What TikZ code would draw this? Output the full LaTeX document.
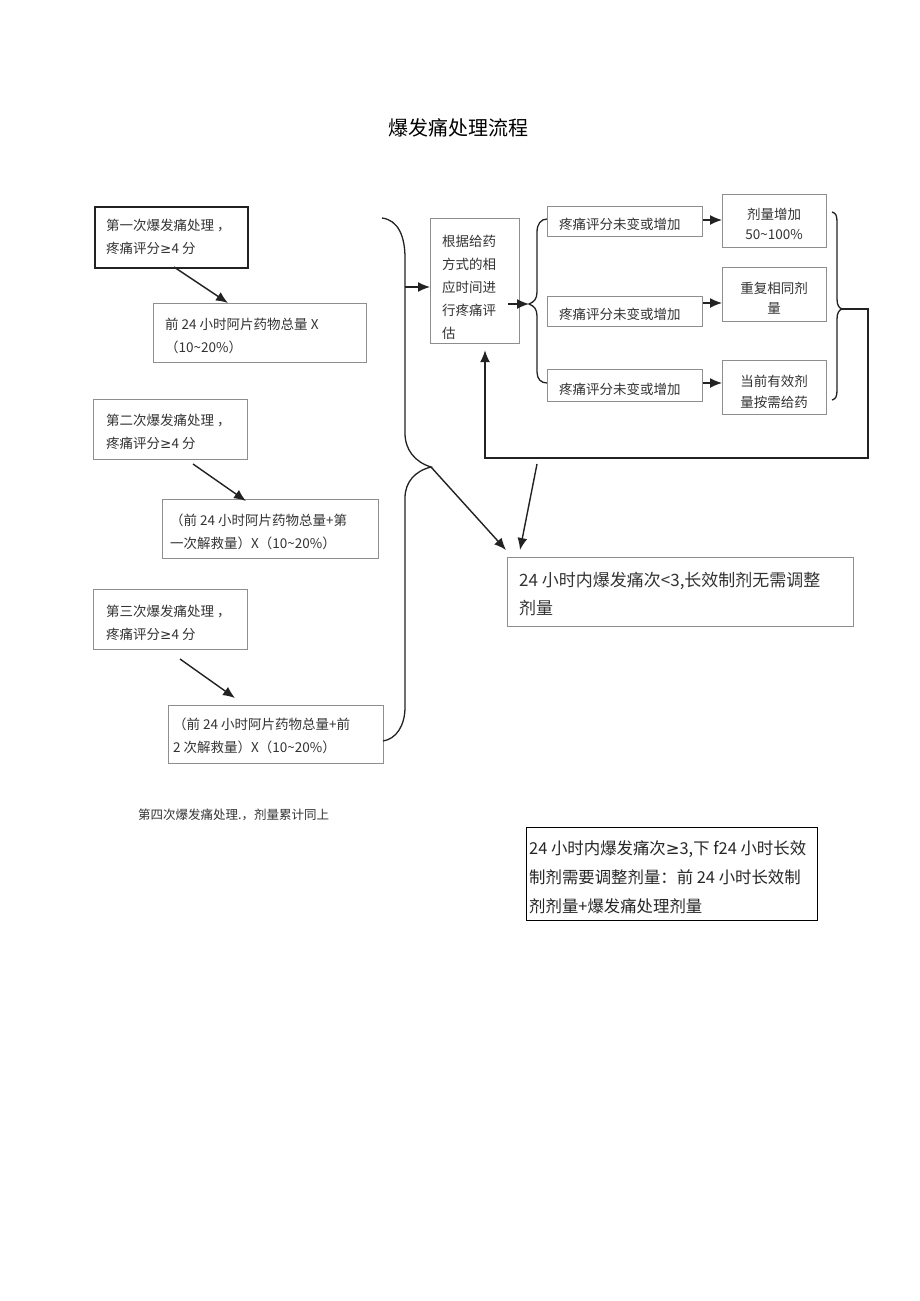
\documentclass[tikz,border=0pt]{standalone}
\usepackage{fontspec}
\setmainfont{Noto Sans CJK SC}
\newfontfamily\symfont{DejaVu Sans}
\newcommand{\gesym}{{\symfont ≥}}
\usetikzlibrary{arrows.meta}
\definecolor{boxgray}{HTML}{8E8E8E}
\definecolor{textgray}{HTML}{333333}
\definecolor{linedark}{HTML}{222222}
\begin{document}
\begin{tikzpicture}[x=1pt,y=-1pt,
  box/.style={draw=boxgray, line width=1.2pt, inner sep=0pt, anchor=north west},
  darkbox/.style={draw=linedark, line width=1.5pt, inner sep=0pt, anchor=north west},
  txt/.style={font=\fontsize{13.5}{23}\selectfont, text=textgray, align=left, inner sep=0pt, anchor=west},
  ctxt/.style={font=\fontsize{13.5}{20.5}\selectfont, text=textgray, align=center, inner sep=0pt},
  bigtxt/.style={font=\fontsize{17}{28}\selectfont, text=textgray, align=left, inner sep=0pt, anchor=west},
  arr/.style={-{Latex[length=12pt,width=10pt]}, line width=1.4pt, draw=linedark},
  brace/.style={line width=1.3pt, draw=linedark}
]
\useasboundingbox (0,0) rectangle (920,1301);
\fill[white] (0,0) rectangle (920,1301);

% title
\node[font=\fontsize{20}{24}\selectfont, text=black, inner sep=0pt] (title) at (458,128) {爆发痛处理流程};

% left column
\node[darkbox, minimum width=153pt, minimum height=61pt] (b1) at (94,206) {};
\node[txt] (b1t) at (106,237) {第一次爆发痛处理 ，\\疼痛评分\gesym 4 分};
\node[box, minimum width=213pt, minimum height=59pt] (b2) at (153,303) {};
\node[txt] (b2t) at (165,336) {前 24 小时阿片药物总量 X\\（10\textasciitilde 20\%）};
\coordinate (a1s) at (174,267);
\coordinate (a1e) at (228,303);
\draw[arr] (a1s) -- (a1e);

\node[box, minimum width=154pt, minimum height=60pt] (b3) at (93,399) {};
\node[txt] (b3t) at (106,432) {第二次爆发痛处理 ，\\疼痛评分\gesym 4 分};
\node[box, minimum width=216pt, minimum height=59pt] (b4) at (162,499) {};
\node[txt] (b4t) at (170,532) {（前 24 小时阿片药物总量+第\\一次解救量）X（10\textasciitilde 20\%）};
\coordinate (a2s) at (193,464);
\coordinate (a2e) at (246,501);
\draw[arr] (a2s) -- (a2e);

\node[box, minimum width=154pt, minimum height=60pt] (b5) at (93,589) {};
\node[txt] (b5t) at (106,623) {第三次爆发痛处理 ，\\疼痛评分\gesym 4 分};
\node[box, minimum width=215pt, minimum height=58pt] (b6) at (168,705) {};
\node[txt] (b6t) at (173,736) {（前 24 小时阿片药物总量+前\\2 次解救量）X（10\textasciitilde 20\%）};
\coordinate (a3s) at (180,659);
\coordinate (a3e) at (235,698);
\draw[arr] (a3s) -- (a3e);

% big left brace
\coordinate (bt) at (382,218);
\coordinate (btip) at (431,467);
\coordinate (bb) at (383,741);
\coordinate (bmid) at (405,287);
\draw[brace] (bt) .. controls (398,220) and (405,236) .. (405,258) -- (405,433)
  .. controls (405,450) and (415,462) .. (btip)
  .. controls (415,471) and (405,482) .. (405,498) -- (405,707)
  .. controls (405,726) and (396,739) .. (bb);

% evaluation box
\node[box, minimum width=89pt, minimum height=125pt] (b7) at (430,218) {};
\node[txt] (b7t) at (442,287) {根据给药\\方式的相\\应时间进\\行疼痛评\\估};
\draw[arr] (bmid) -- (b7.west |- bmid);

% small middle brace
\coordinate (mstart) at (508,304);
\coordinate (mtip) at (529,304);
\draw[arr] (mstart) -- (mtip);
\coordinate (mt) at (547,219);
\coordinate (mb) at (547,383);
\draw[brace] (mt) .. controls (541,219) and (537,224) .. (537,232) -- (537,292)
  .. controls (537,299) and (534,302) .. (mtip)
  .. controls (534,306) and (537,309) .. (537,316) -- (537,372)
  .. controls (537,379) and (541,383) .. (mb);

% small boxes
\node[box, minimum width=155pt, minimum height=30pt] (s1) at (547,206) {};
\node[txt] (s1t) at (559,224) {疼痛评分未变或增加};
\node[box, minimum width=155pt, minimum height=30pt] (s2) at (547,296) {};
\node[txt] (s2t) at (559,314) {疼痛评分未变或增加};
\node[box, minimum width=155pt, minimum height=32pt] (s3) at (547,369) {};
\node[txt] (s3t) at (559,389) {疼痛评分未变或增加};

% right boxes
\node[box, minimum width=104pt, minimum height=53pt] (r1) at (722,194) {};
\node[ctxt] (r1t) at (774,224) {剂量增加\\50\textasciitilde 100\%};
\node[box, minimum width=104pt, minimum height=54pt] (r2) at (722,267) {};
\node[ctxt] (r2t) at (774,298) {重复相同剂\\量};
\node[box, minimum width=104pt, minimum height=54pt] (r3) at (722,360) {};
\node[ctxt] (r3t) at (774,392) {当前有效剂\\量按需给药};

\draw[arr] (s1.east |- 0,220) -- (r1.west |- 0,220);
\draw[arr] (s2.east |- 0,303) -- (r2.west |- 0,303);
\draw[arr] (s3.east |- 0,383) -- (r3.west |- 0,383);

% right brace and feedback loop
\coordinate (rt) at (832,212);
\coordinate (rtip) at (842,309);
\coordinate (rb) at (832,400);
\draw[brace] (rt) .. controls (836,213) and (837,216) .. (837,222) -- (837,299)
  .. controls (837,305) and (839,308) .. (rtip)
  .. controls (839,310) and (837,313) .. (837,319) -- (837,390)
  .. controls (837,396) and (836,399) .. (rb);
\coordinate (lc1) at (868,309);
\coordinate (lc2) at (868,458);
\coordinate (lc3) at (485,458);
\draw[arr] (rtip) -- (lc1) -- (lc2) -- (lc3) -- ([yshift=-6pt]b7.south -| lc3);

% outcome boxes
\node[box, minimum width=346pt, minimum height=69pt] (b9) at (507,557) {};
\node[bigtxt] (b9t) at (519,594) {24 小时内爆发痛次<3,长效制剂无需调整\\剂量};
\coordinate (a4e) at (506,550);
\coordinate (a5s) at (537,464);
\coordinate (a5e) at (520,550);
\draw[arr] (btip) -- (a4e);
\draw[arr] (a5s) -- (a5e);

\node[font=\fontsize{12.5}{15}\selectfont, text=textgray, inner sep=0pt, anchor=west] (note) at (138,815) {第四次爆发痛处理.，剂量累计同上};

\node[draw=black, line width=1pt, inner sep=0pt, anchor=north west, minimum width=291pt, minimum height=93pt] (b10) at (526,827) {};
\node[bigtxt, font=\fontsize{16.4}{29}\selectfont, text=black!85] (b10t) at (529,877) {24 小时内爆发痛次\gesym 3,下 f24 小时长效\\制剂需要调整剂量：前 24 小时长效制\\剂剂量+爆发痛处理剂量};
\end{tikzpicture}
\end{document}
